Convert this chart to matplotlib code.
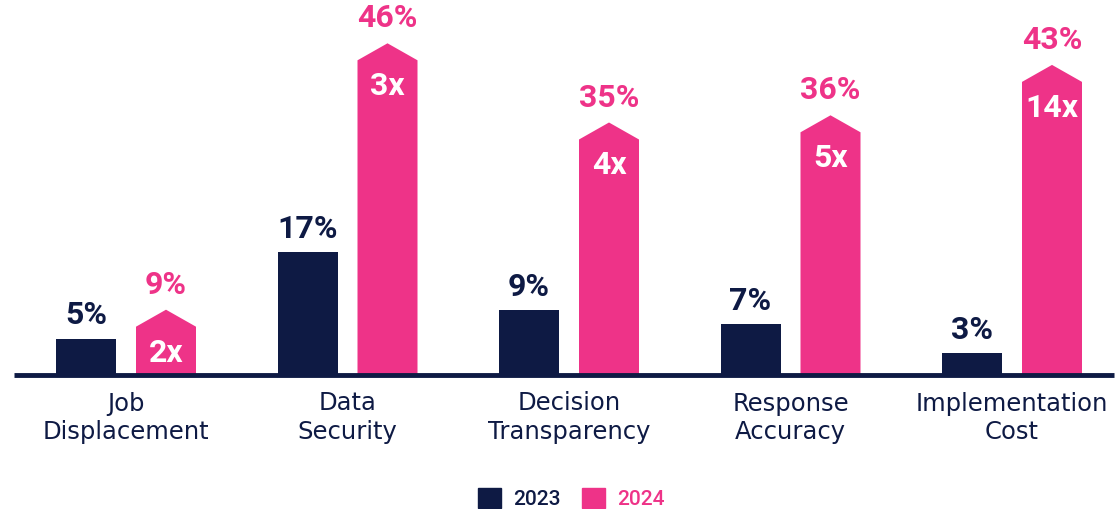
import matplotlib.pyplot as plt
from matplotlib.patches import Polygon, Patch

plt.rcParams['font.family'] = ['Roboto', 'DejaVu Sans']

categories = ['Job\nDisplacement', 'Data\nSecurity', 'Decision\nTransparency',
              'Response\nAccuracy', 'Implementation\nCost']
v2023 = [5, 17, 9, 7, 3]
v2024 = [9, 46, 35, 36, 43]
growth = ['2x', '3x', '4x', '5x', '14x']

navy = '#0E1A44'
pink = '#EE3388'

# pixel scale helpers: one group = 221.5 px, 1% = 7.2 px
px_x = 1 / 221.5
px_y = 1 / 7.2
w = 60 * px_x
off = 40 * px_x
roof = 17 * px_y

fig = plt.figure(figsize=(11.16, 5.09), dpi=100)
ax = fig.add_axes([0, 0, 1, 1])
ax.set_xlim(-126 * px_x, (1116 - 126) * px_x)
ax.set_ylim(-(509 - 374.5) * px_y, 374.5 * px_y)
ax.axis('off')

for i, (a, b, g) in enumerate(zip(v2023, v2024, growth)):
    x1 = i - off
    x2 = i + off
    ax.bar(x1, a, width=w, color=navy, zorder=2)
    ax.text(x1, a + 14 * px_y, f'{a}%', ha='center', va='baseline',
            fontsize=23, fontweight='bold', color=navy)
    verts = [(x2 - w / 2, 0), (x2 - w / 2, b - roof), (x2, b),
             (x2 + w / 2, b - roof), (x2 + w / 2, 0)]
    ax.add_patch(Polygon(verts, closed=True, facecolor=pink, edgecolor='none', zorder=2))
    ax.text(x2, b + 16 * px_y, f'{b}%', ha='center', va='baseline',
            fontsize=23, fontweight='bold', color=pink)
    ax.text(x2, b - 52 * px_y, g, ha='center', va='baseline',
            fontsize=23, fontweight='bold', color='white', zorder=3)
    ax.text(i, -17 * px_y, categories[i], ha='center', va='top',
            fontsize=17.5, color=navy, linespacing=1.25,
            family=['DejaVu Sans'])

ax.plot([(14 - 126) * px_x, (1114 - 126) * px_x], [0, 0], color=navy,
        lw=3.5, solid_capstyle='butt', zorder=3)

handles = [Patch(color=navy, label='2023'), Patch(color=pink, label='2024')]
leg = fig.legend(handles=handles, loc='lower center', bbox_to_anchor=(0.512, 0.0),
                 ncol=2, frameon=False, fontsize=15, handlelength=1.1,
                 handleheight=1.1, handletextpad=0.6, columnspacing=1.0,
                 borderpad=0.0, borderaxespad=0.0)
for t, c in zip(leg.get_texts(), [navy, pink]):
    t.set_color(c)
    t.set_fontweight('medium')

fig.savefig('out.png', dpi=100)
